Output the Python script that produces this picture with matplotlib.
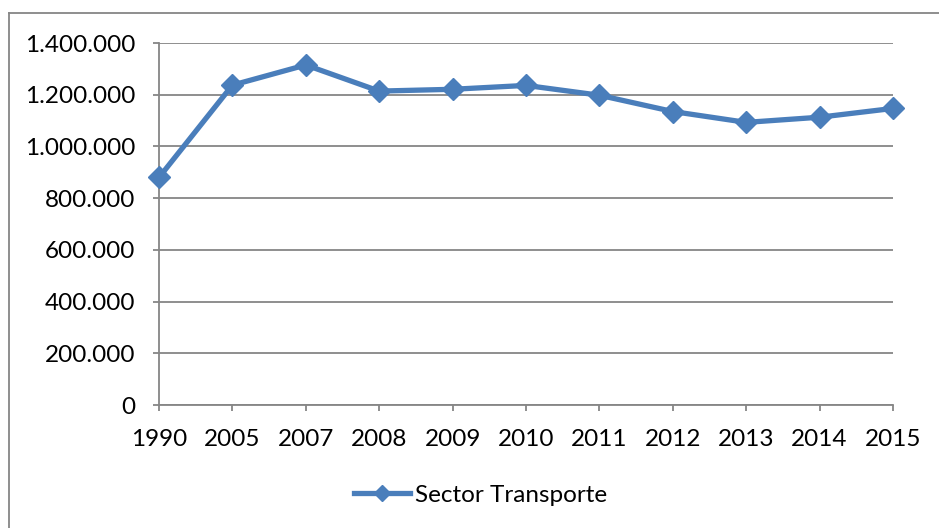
import numpy as np
import matplotlib.pyplot as plt
from matplotlib.ticker import FuncFormatter, MultipleLocator
from matplotlib.lines import Line2D

# Sector Transporte
years = ['1990', '2005', '2007', '2008', '2009', '2010',
         '2011', '2012', '2013', '2014', '2015']
transporte = [880000, 1237000, 1315000, 1214000, 1221000, 1236000,
              1198000, 1135000, 1093000, 1113000, 1147000]

blue = '#4A7EBB'
grey = '#868686'

plt.rcParams['font.family'] = ['Lato', 'DejaVu Sans']

fig = plt.figure(figsize=(9.39, 5.28), dpi=100)
ax = fig.add_axes([159 / 939, 1 - 405 / 528, (893 - 159) / 939, (405 - 43) / 528])

x = np.arange(len(years))
ax.plot(x, transporte, color=blue, lw=3.8, marker='D', ms=11,
        mfc=blue, mec=blue, mew=1, label='Sector Transporte', clip_on=False, zorder=3)

ax.set_xlim(0, len(years) - 1)
ax.set_ylim(0, 1400000)
ax.yaxis.set_major_locator(MultipleLocator(200000))
ax.yaxis.set_major_formatter(FuncFormatter(lambda v, p: f'{v:,.0f}'.replace(',', '.')))
ax.set_xticks(x)
ax.set_xticklabels(years)

ax.grid(axis='y', color=grey, lw=1.3)
ax.set_axisbelow(True)
for s in ['top', 'right']:
    ax.spines[s].set_visible(False)
for s in ['left', 'bottom']:
    ax.spines[s].set_color(grey)
    ax.spines[s].set_linewidth(1.3)
ax.tick_params(axis='both', colors=grey, labelcolor='black', labelsize=17.5,
               length=4, width=1.3, direction='out')
ax.tick_params(axis='y', pad=13)
ax.tick_params(axis='x', pad=13)

ax.legend(loc='center', bbox_to_anchor=(0.512, 1 - 495 / 528), bbox_transform=fig.transFigure,
          frameon=False, fontsize=17.5, handlelength=2.3, handletextpad=0.2, markerscale=0.7)

# outer chart border
fig.add_artist(Line2D([9 / 939, 9 / 939], [0, 1 - 13 / 528], color=grey, lw=1.3))
fig.add_artist(Line2D([9 / 939, 1], [1 - 13 / 528, 1 - 13 / 528], color=grey, lw=1.3))

fig.savefig('out.png', dpi=100)
